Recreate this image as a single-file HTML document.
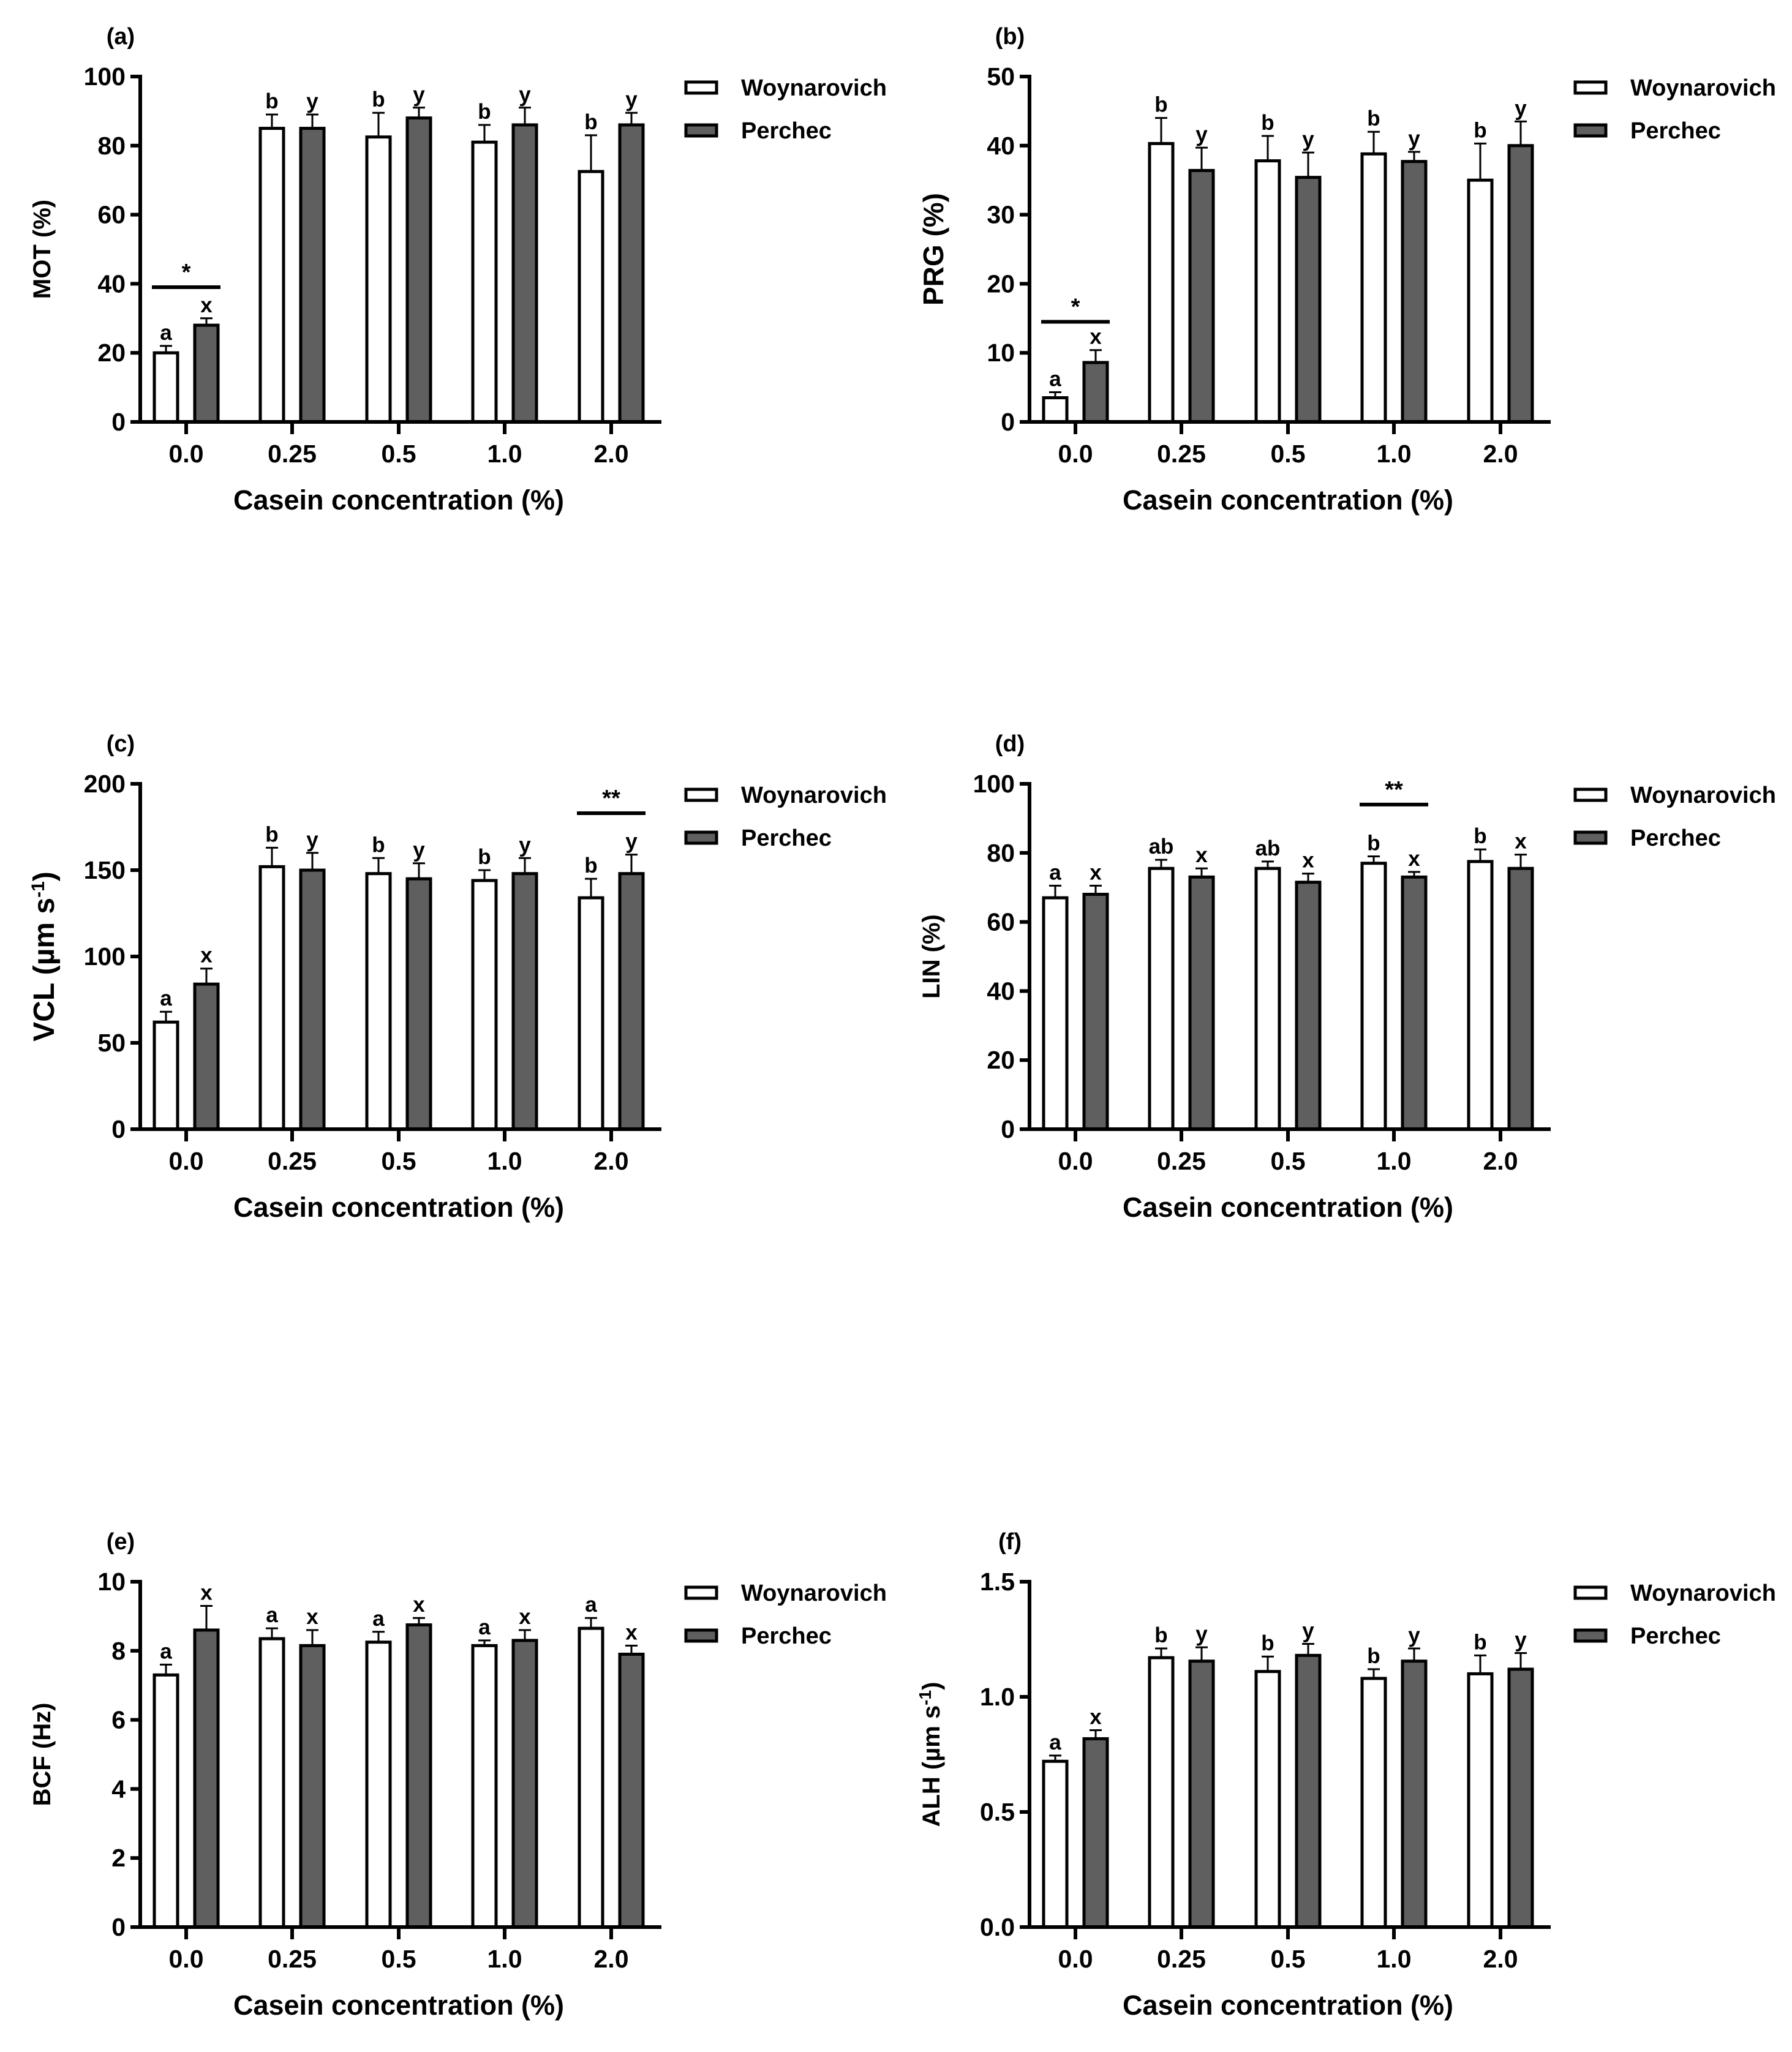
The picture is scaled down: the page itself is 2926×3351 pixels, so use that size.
<!DOCTYPE html>
<html><head><meta charset="utf-8"><style>
html,body{margin:0;padding:0;background:#fff;}
svg{display:block;font-family:"Liberation Sans",Arial,sans-serif;font-weight:bold;}
</style></head><body>
<svg id="fig" width="2926" height="3351" viewBox="0 0 2926 3351" xmlns="http://www.w3.org/2000/svg"></svg>
<script>
const categories = ["0.0","0.25","0.5","1.0","2.0"];
const seriesNames = ["Woynarovich","Perchec"];
// Panel a: MOT
const motW = [20,85,82.5,81,72.5];
const motWErr = [2,4,7,5,10.5];
const motP = [28,85,88,86,86];
const motPErr = [2,4,3,5,3.5];
const motTicks = [0,20,40,60,80,100];
// Panel b: PRG
const prgW = [3.5,40.3,37.8,38.8,35];
const prgWErr = [0.8,3.7,3.6,3.2,5.3];
const prgP = [8.6,36.4,35.4,37.7,40];
const prgPErr = [1.8,3.3,3.6,1.4,3.5];
const prgTicks = [0,10,20,30,40,50];
// Panel c: VCL
const vclW = [62,152,148,144,134];
const vclWErr = [6,11,9,6,11];
const vclP = [84,150,145,148,148];
const vclPErr = [9,10,9,9,11];
const vclTicks = [0,50,100,150,200];
// Panel d: LIN
const linW = [67,75.5,75.5,77,77.5];
const linWErr = [3.5,2.5,2,2,3.5];
const linP = [68,73,71.5,73,75.5];
const linPErr = [2.5,2.5,2.5,1.5,4];
const linTicks = [0,20,40,60,80,100];
// Panel e: BCF
const bcfW = [7.3,8.35,8.25,8.15,8.65];
const bcfWErr = [0.3,0.3,0.3,0.15,0.3];
const bcfP = [8.6,8.15,8.75,8.3,7.9];
const bcfPErr = [0.7,0.45,0.2,0.3,0.25];
const bcfTicks = [0,2,4,6,8,10];
// Panel f: ALH
const alhW = [0.72,1.17,1.11,1.08,1.10];
const alhWErr = [0.025,0.04,0.065,0.04,0.08];
const alhP = [0.818,1.155,1.18,1.155,1.12];
const alhPErr = [0.037,0.06,0.05,0.055,0.07];
const alhTicks = [0,0.5,1.0,1.5];

const NS="http://www.w3.org/2000/svg";
const svg=document.getElementById('fig');
function mk(tag,attrs,parent,text){const e=document.createElementNS(NS,tag);for(const k in attrs)e.setAttribute(k,attrs[k]);if(text!==undefined)e.textContent=text;(parent||svg).appendChild(e);return e;}

function panel(o){
  const g=mk('g',{});
  
  
  const ox=o.ox, oy=o.oy;
  const axX=ox+229, y0=oy+689, yTop=oy+125, xEnd=ox+1080;
  const centers=[304,477,651,824,998].map(c=>ox+c);
  const ymax=o.ticks[o.ticks.length-1];
  const Y=v=>y0-(v/ymax)*(y0-yTop);
  const pl=mk('text',{x:ox+197,y:oy+72,'font-size':38,'text-anchor':'middle'},g,'('+o.id+')');
   
  const off=33,bw=38;
  for(let s=0;s<2;s++){
    const vals=s?o.P:o.W, errs=s?o.PE:o.WE, lets=s?o.PL:o.WL;
    vals.forEach((v,i)=>{
      const cx=centers[i]+(s?off:-off);
      const top=Y(v+errs[i]);
      const eb=mk('g',{},g);
       
      mk('line',{x1:cx,x2:cx,y1:Y(v),y2:top,stroke:'#000','stroke-width':3},eb);
      mk('line',{x1:cx-10,x2:cx+10,y1:top,y2:top,stroke:'#000','stroke-width':3},eb);
      const r=mk('rect',{x:cx-bw/2,y:Y(v),width:bw,height:y0-Y(v),fill:s?'#5f5f5f':'#fff',stroke:'#000','stroke-width':5},g);
      
      
      const t=mk('text',{x:cx,y:top-10,'font-size':35,'text-anchor':'middle'},g,lets[i]);
       
    });
  }
  const ya=mk('line',{x1:axX,x2:axX,y1:yTop-3,y2:y0+3,stroke:'#000','stroke-width':6},g);
   
  const xa=mk('line',{x1:axX-14,x2:xEnd,y1:y0,y2:y0,stroke:'#000','stroke-width':6},g);
   
  o.ticks.forEach(tv=>{
    const y=Y(tv);
    mk('line',{x1:axX-16,x2:axX,y1:y,y2:y,stroke:'#000','stroke-width':6},g);
    const t=mk('text',{x:axX-24,y:y+14,'font-size':41,'text-anchor':'end'},g,o.fmt?tv.toFixed(1):String(tv));
     
  });
  categories.forEach((c,i)=>{
    mk('line',{x1:centers[i],x2:centers[i],y1:y0,y2:y0+20,stroke:'#000','stroke-width':6},g);
    const t=mk('text',{x:centers[i],y:y0+66,'font-size':41,'text-anchor':'middle'},g,c);
     
  });
  const xt=mk('text',{x:ox+651,y:oy+832,'font-size':45,'text-anchor':'middle'},g,'Casein concentration (%)');
   
  const yt=mk('text',{x:0,y:0,'font-size':o.yfs||40,'text-anchor':'middle',transform:`translate(${ox+82+(o.yfs?6:0)},${(y0+yTop)/2}) rotate(-90)`},g);
   
  yt.innerHTML=o.ytitle;
  if(o.sig){
    const i=o.sig.i, y=Y(o.sig.v);
    mk('line',{x1:centers[i]-56,x2:centers[i]+56,y1:y,y2:y,stroke:'#000','stroke-width':6},g);
    const t=mk('text',{x:centers[i],y:y-12,'font-size':38,'text-anchor':'middle'},g,o.sig.s);
     
  }
  const lg=mk('g',{},g);
   
  [0,1].forEach(s=>{
    const ly=oy+143+s*70;
    mk('rect',{x:ox+1120,y:ly-9,width:50,height:18,fill:s?'#5f5f5f':'#fff',stroke:'#000','stroke-width':5},lg);
    const t=mk('text',{x:ox+1210,y:ly+13,'font-size':38},lg,seriesNames[s]);
     
  });
}
const L1=["a","b","b","b","b"], L2=["x","y","y","y","y"];
const col2=1452, row2=1155, row3=2458;
panel({id:'a',ox:0,oy:0,ticks:motTicks,W:motW,WE:motWErr,P:motP,PE:motPErr,WL:L1,PL:L2,ytitle:'MOT (%)',sig:{i:0,v:39,s:'*'}});
panel({id:'b',ox:col2,oy:0,ticks:prgTicks,W:prgW,WE:prgWErr,P:prgP,PE:prgPErr,WL:L1,PL:L2,ytitle:'PRG (%)',yfs:46,sig:{i:0,v:14.5,s:'*'}});
panel({id:'c',ox:0,oy:row2,ticks:vclTicks,W:vclW,WE:vclWErr,P:vclP,PE:vclPErr,WL:L1,PL:L2,yfs:48,ytitle:'VCL (µm s<tspan dy="-16" font-size="30">-1</tspan><tspan dy="16">)</tspan>',sig:{i:4,v:183,s:'**'}});
panel({id:'d',ox:col2,oy:row2,ticks:linTicks,W:linW,WE:linWErr,P:linP,PE:linPErr,WL:["a","ab","ab","b","b"],PL:["x","x","x","x","x"],ytitle:'LIN (%)',sig:{i:3,v:94,s:'**'}});
panel({id:'e',ox:0,oy:row3,ticks:bcfTicks,W:bcfW,WE:bcfWErr,P:bcfP,PE:bcfPErr,WL:["a","a","a","a","a"],PL:["x","x","x","x","x"],ytitle:'BCF (Hz)'});
panel({id:'f',ox:col2,oy:row3,ticks:alhTicks,fmt:true,W:alhW,WE:alhWErr,P:alhP,PE:alhPErr,WL:L1,PL:L2,ytitle:'ALH (µm s<tspan dy="-14" font-size="28">-1</tspan><tspan dy="14">)</tspan>'});
</script>
</body></html>
